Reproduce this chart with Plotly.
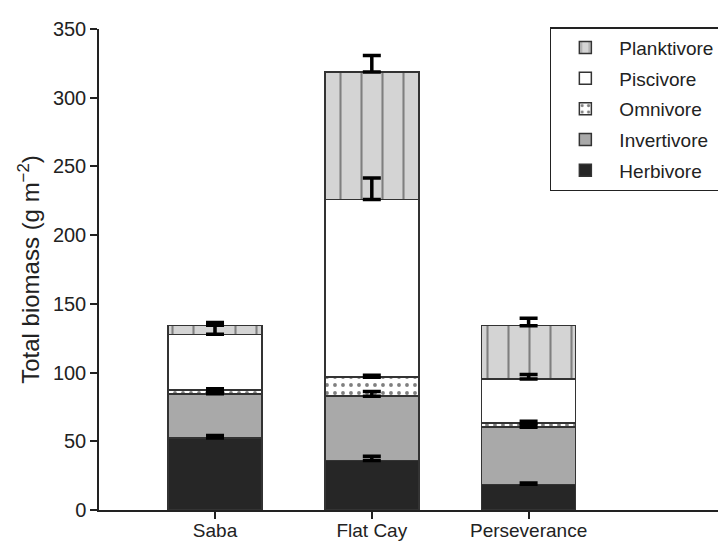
import numpy as np
import plotly.graph_objects as go

sites = ["Saba", "Flat Cay", "Perseverance"]
groups = ["Herbivore", "Invertivore", "Omnivore", "Piscivore", "Planktivore"]

herbivore = [52.3, 36.1, 18.7]
invertivore = [32.2, 46.7, 41.6]
omnivore = [2.9, 13.8, 3.0]
piscivore = [40.4, 129.4, 32.1]
planktivore = [6.6, 92.8, 38.7]

herbivore_se = [2.0, 3.0, 1.0]
invertivore_se = [1.2, 3.4, 1.5]
omnivore_se = [0.8, 1.5, 1.2]
piscivore_se = [7.0, 15.5, 3.2]
planktivore_se = [2.0, 12.0, 5.5]

values = [herbivore, invertivore, omnivore, piscivore, planktivore]
errors = [herbivore_se, invertivore_se, omnivore_se, piscivore_se, planktivore_se]

styles = {
    "Herbivore": dict(color="#262626", pattern=dict(shape="")),
    "Invertivore": dict(color="#a9a9a9", pattern=dict(shape="")),
    "Omnivore": dict(color="#ffffff", pattern=dict(shape=".", fgcolor="#000000", bgcolor="#ffffff", size=8, solidity=0.18)),
    "Piscivore": dict(color="#ffffff", pattern=dict(shape="")),
    "Planktivore": dict(color="#d4d4d4", pattern=dict(shape="|", fgcolor="#2a2a2a", bgcolor="#d4d4d4", size=21, solidity=0.1)),
}

fig = go.Figure()
for i, (name, vals) in enumerate(zip(groups, values)):
    st = styles[name]
    fig.add_trace(go.Bar(
        x=sites, y=vals, name=name, width=0.6,
        legendgroup=name, legendrank=len(groups) - i,
        marker=dict(color=st["color"], pattern=st["pattern"],
                    line=dict(color="#333333", width=1.5)),
        hoverinfo="skip",
    ))

cum = np.cumsum(np.array(values), axis=0)
for name, tops, err in zip(groups, cum, errors):
    fig.add_trace(go.Scatter(
        x=sites, y=tops, mode="markers", showlegend=False, hoverinfo="skip",
        marker=dict(size=1, color="rgba(0,0,0,0)"),
        error_y=dict(type="data", symmetric=False, array=err,
                     arrayminus=[0] * len(err), color="#000000",
                     thickness=3.5, width=9),
    ))

fig.update_layout(
    barmode="stack",
    width=726, height=541,
    margin=dict(l=91, r=0, t=21, b=39),
    paper_bgcolor="white", plot_bgcolor="white",
    font=dict(family="Liberation Sans, Arial, sans-serif", size=20, color="#222222"),
    legend=dict(
        x=0.71, y=1.004, xanchor="left", yanchor="top",
        bordercolor="#222222", borderwidth=1.5, bgcolor="white",
        traceorder="grouped", tracegroupgap=3,
        itemwidth=58, font=dict(size=19),
    ),
    showlegend=True,
)
fig.update_xaxes(
    range=[-0.74, 3.31], showline=True, linecolor="#222222", linewidth=1.5,
    ticks="outside", ticklen=7, tickwidth=1.5, tickcolor="#222222",
    tickfont=dict(size=19), ticklabelstandoff=-5, automargin=False,
    showgrid=False, zeroline=False,
)
fig.update_yaxes(
    range=[0, 350], dtick=50, showline=True, linecolor="#222222", linewidth=1.5,
    ticks="outside", ticklen=7, tickwidth=1.5, tickcolor="#222222",
    showgrid=False, zeroline=False, automargin=False,
    title=dict(text="Total biomass (g m<sup>−2</sup>)", font=dict(size=24), standoff=6),
)

fig.write_html("out.html")
